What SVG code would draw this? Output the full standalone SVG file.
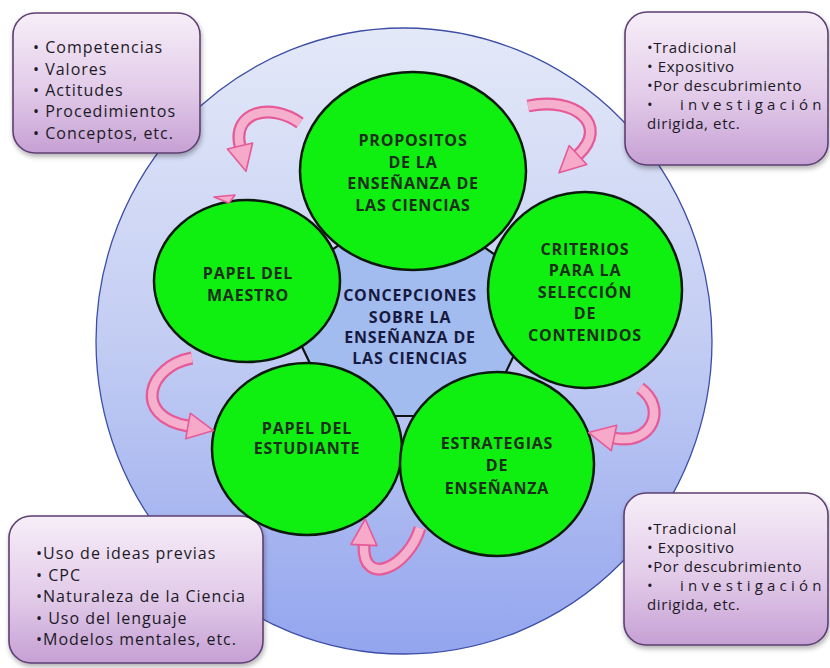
<svg xmlns="http://www.w3.org/2000/svg" width="830" height="668" viewBox="0 0 830 668">
<defs>
<linearGradient id="gBig" x1="0" y1="0" x2="0" y2="1">
<stop offset="0" stop-color="#e4e9f8"/>
<stop offset="0.5" stop-color="#c3cdf3"/>
<stop offset="1" stop-color="#93a5ee"/>
</linearGradient>
<linearGradient id="gBox" x1="0" y1="0" x2="0" y2="1">
<stop offset="0" stop-color="#f7eef8"/>
<stop offset="0.55" stop-color="#e2cbe9"/>
<stop offset="1" stop-color="#c6a0d4"/>
</linearGradient>
<filter id="sh" x="-10%" y="-10%" width="125%" height="130%">
<feDropShadow dx="1" dy="3" stdDeviation="2.5" flood-color="#000" flood-opacity="0.3"/>
</filter>
<style>
.box{fill:url(#gBox);stroke:#5e3f72;stroke-width:1.6;filter:url(#sh)}
.bt{font-family:"Open Sans","Liberation Sans",sans-serif;font-size:16px;fill:#1c1a26;letter-spacing:1px}
.bt2{font-family:"Open Sans","Liberation Sans",sans-serif;font-size:15px;fill:#1c1a26;letter-spacing:0.6px}
.gc{fill:#10f010;stroke:#0c1a0c;stroke-width:2.5}
.ct{font-family:"Open Sans","Liberation Sans",sans-serif;font-size:16px;font-weight:bold;fill:#1b2e1b;letter-spacing:0.8px;text-anchor:middle}
.cc{font-family:"Open Sans","Liberation Sans",sans-serif;font-size:16px;font-weight:bold;fill:#161a40;letter-spacing:0.8px;text-anchor:middle}
.so{fill:none;stroke:#e65a98;stroke-width:13}
.si{fill:none;stroke:#f4b0cc;stroke-width:8.5}
.hd{fill:#f6a9c9;stroke:#e65a98;stroke-width:1.6;stroke-linejoin:round}
</style>
</defs>
<rect width="830" height="668" fill="#ffffff"/>
<g id="big-circle">
<ellipse cx="404" cy="341" rx="308" ry="313" fill="url(#gBig)" stroke="#3d4ea6" stroke-width="1.3"/>
</g>
<g id="center">
<polygon points="410,195 545,290 485,416 335,416 275,290" fill="#a3bcf0" stroke="#111" stroke-width="2.2"/>
<text class="cc" x="410" y="301">CONCEPCIONES</text>
<text class="cc" x="410" y="323">SOBRE LA</text>
<text class="cc" x="410" y="343">ENSEÑANZA DE</text>
<text class="cc" x="410" y="364">LAS CIENCIAS</text>
</g>
<g id="box-tl">
<rect class="box" x="13" y="13" width="187" height="140" rx="22"/>
<text class="bt" x="33" y="53">• Competencias</text>
<text class="bt" x="33" y="75">• Valores</text>
<text class="bt" x="33" y="96">• Actitudes</text>
<text class="bt" x="33" y="117">• Procedimientos</text>
<text class="bt" x="33" y="139">• Conceptos, etc.</text>
</g>
<g id="box-tr">
<rect class="box" x="625" y="12" width="203" height="153" rx="22"/>
<text class="bt2" x="647" y="53">•Tradicional</text>
<text class="bt2" x="647" y="72">• Expositivo</text>
<text class="bt2" x="647" y="91">•Por descubrimiento</text>
<text class="bt2" x="647" y="110">•</text>
<text class="bt2" x="680" y="110" textLength="142" lengthAdjust="spacing">investigación</text>
<text class="bt2" x="647" y="129">dirigida, etc.</text>
</g>
<g id="box-bl">
<rect class="box" x="9" y="516" width="254" height="147" rx="22"/>
<text class="bt" x="36" y="559">•Uso de ideas previas</text>
<text class="bt" x="36" y="581">• CPC</text>
<text class="bt" x="36" y="602">•Naturaleza de la Ciencia</text>
<text class="bt" x="36" y="624">• Uso del lenguaje</text>
<text class="bt" x="36" y="645">•Modelos mentales, etc.</text>
</g>
<g id="box-br">
<rect class="box" x="624" y="493" width="204" height="152" rx="22"/>
<text class="bt2" x="647" y="534">•Tradicional</text>
<text class="bt2" x="647" y="553">• Expositivo</text>
<text class="bt2" x="647" y="572">•Por descubrimiento</text>
<text class="bt2" x="647" y="591">•</text>
<text class="bt2" x="680" y="591" textLength="142" lengthAdjust="spacing">investigación</text>
<text class="bt2" x="647" y="610">dirigida, etc.</text>
</g>
<g id="propositos">
<ellipse class="gc" cx="413" cy="171" rx="113" ry="99"/>
<text class="ct" x="413" y="146">PROPOSITOS</text>
<text class="ct" x="413" y="168">DE LA</text>
<text class="ct" x="413" y="189">ENSEÑANZA DE</text>
<text class="ct" x="413" y="211">LAS CIENCIAS</text>
</g>
<g id="maestro">
<ellipse class="gc" cx="247" cy="281" rx="93" ry="81"/>
<text class="ct" x="248" y="279">PAPEL DEL</text>
<text class="ct" x="248" y="301">MAESTRO</text>
</g>
<g id="criterios">
<ellipse class="gc" cx="585" cy="290" rx="97" ry="98"/>
<text class="ct" x="585" y="255">CRITERIOS</text>
<text class="ct" x="585" y="276">PARA LA</text>
<text class="ct" x="585" y="298">SELECCIÓN</text>
<text class="ct" x="585" y="319">DE</text>
<text class="ct" x="585" y="341">CONTENIDOS</text>
</g>
<g id="estudiante">
<ellipse class="gc" cx="307" cy="449" rx="95" ry="86"/>
<text class="ct" x="307" y="434">PAPEL DEL</text>
<text class="ct" x="307" y="454">ESTUDIANTE</text>
</g>
<g id="estrategias">
<ellipse class="gc" cx="497" cy="464" rx="97" ry="92"/>
<text class="ct" x="497" y="449">ESTRATEGIAS</text>
<text class="ct" x="497" y="471">DE</text>
<text class="ct" x="497" y="494">ENSEÑANZA</text>
</g>
<g id="connectors">
<polygon class="hd" points="214,197 235,195 229,203"/>
<path class="so" d="M300,123 C270,102 232,112 240,146"/>
<path class="si" d="M300,123 C270,102 232,112 240,146"/>
<polygon class="hd" points="227.4,149 252.6,143 246,171.3"/>
<path class="so" d="M528,106 C575,96 610,125 578,155"/>
<path class="si" d="M528,106 C575,96 610,125 578,155"/>
<polygon class="hd" points="569.2,145.5 586.8,164.5 559,172.7"/>
<path class="so" d="M192,358 C148,366 132,416 188,426"/>
<path class="si" d="M192,358 C148,366 132,416 188,426"/>
<polygon class="hd" points="185.7,438.8 190.3,413.2 213.6,430.6"/>
<path class="so" d="M420,528 C408,568 362,588 364,545"/>
<path class="si" d="M420,528 C408,568 362,588 364,545"/>
<polygon class="hd" points="377,545.6 351,544.4 365.2,519"/>
<path class="so" d="M640,388 C668,408 652,446 614,438"/>
<path class="si" d="M640,388 C668,408 652,446 614,438"/>
<polygon class="hd" points="616.7,425.3 611.3,450.7 588.6,432.6"/>
</g>
</svg>
